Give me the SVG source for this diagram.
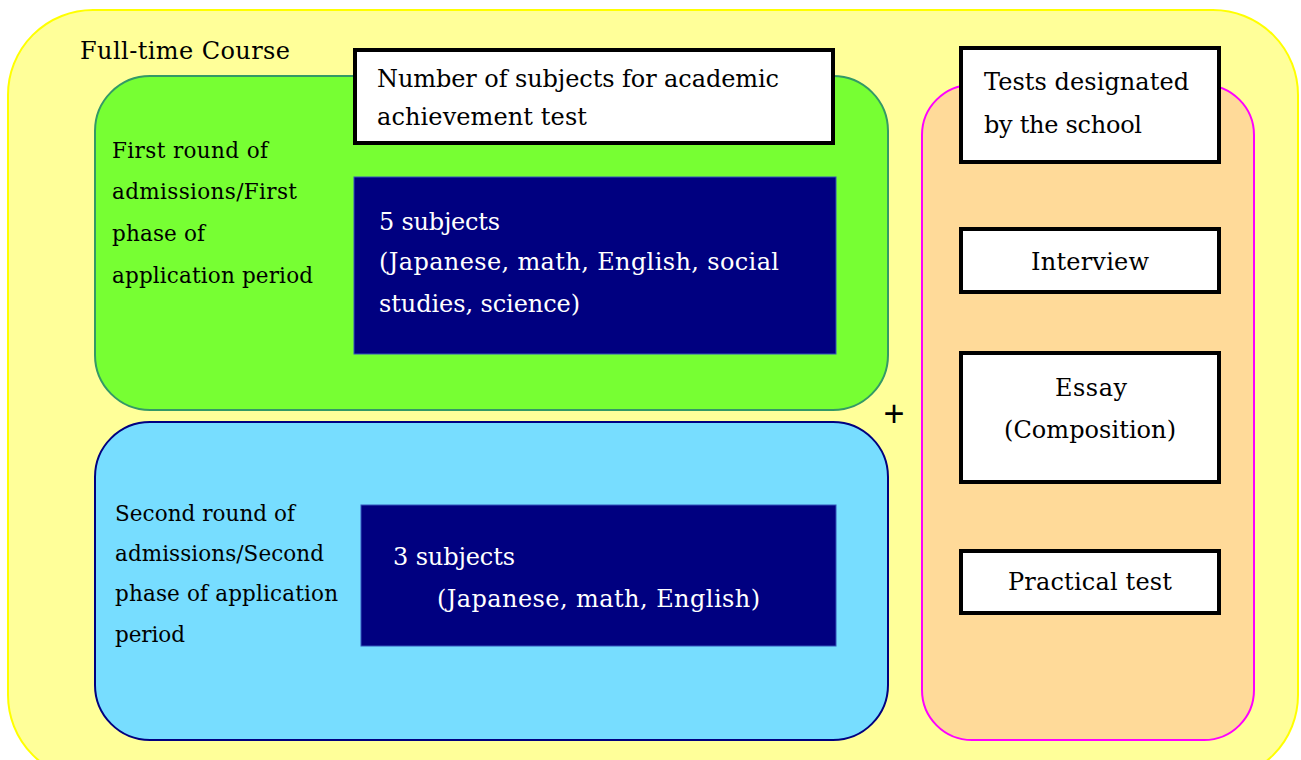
<svg xmlns="http://www.w3.org/2000/svg" width="1301" height="760" viewBox="0 0 1301 760">
<style>
text{font-family:"DejaVu Serif","Liberation Serif",serif;fill:#000}
.t{font-size:24px}
.s{font-size:21.5px}
.w{fill:#fff}
.box{fill:#fff;stroke:#000;stroke-width:4}
.navy{fill:#000080;stroke:#3355bb;stroke-width:1}
.c{text-anchor:middle}
</style>
<rect width="1301" height="760" fill="#fff"/>
<g id="full-time">
<rect x="8" y="10" width="1290" height="770" rx="85" fill="#FFFF99" stroke="#FFFF00" stroke-width="2"/>
<text class="t" x="80" y="59" textLength="210">Full-time Course</text>
</g>
<g id="first-round">
<rect x="95" y="76" width="793" height="334" rx="55" fill="#77FF33" stroke="#339966" stroke-width="2"/>
<text class="s" x="112" y="158" textLength="156">First round of</text>
<text class="s" x="112" y="199" textLength="185">admissions/First</text>
<text class="s" x="112" y="241" textLength="93">phase of</text>
<text class="s" x="112" y="283" textLength="201">application period</text>
</g>
<g id="second-round">
<rect x="95" y="422" width="793" height="318" rx="55" fill="#77DDFF" stroke="#000080" stroke-width="2"/>
<text class="s" x="115" y="521" textLength="180">Second round of</text>
<text class="s" x="115" y="561" textLength="209">admissions/Second</text>
<text class="s" x="115" y="601" textLength="223">phase of application</text>
<text class="s" x="115" y="642" textLength="70">period</text>
</g>
<g id="school-tests">
<rect x="922" y="85" width="332" height="655" rx="50" fill="#FFDA99" stroke="#FF00FF" stroke-width="2"/>
</g>
<g id="number-of-subjects">
<rect class="box" x="355" y="50" width="478" height="93"/>
<text class="t" x="377" y="87" textLength="402">Number of subjects for academic</text>
<text class="t" x="377" y="125" textLength="210">achievement test</text>
</g>
<g id="five-subjects">
<rect class="navy" x="354" y="177" width="482" height="177"/>
<text class="t w" x="379" y="230" textLength="121">5 subjects</text>
<text class="t w" x="379" y="270" textLength="400">(Japanese, math, English, social</text>
<text class="t w" x="379" y="312" textLength="201">studies, science)</text>
</g>
<g id="three-subjects">
<rect class="navy" x="361" y="505" width="475" height="141"/>
<text class="t w" x="393" y="565" textLength="122">3 subjects</text>
<text class="t w" x="437" y="607" textLength="323">(Japanese, math, English)</text>
</g>
<g id="tests-designated">
<rect class="box" x="961" y="48" width="258" height="114"/>
<text class="t" x="984" y="90" textLength="205">Tests designated</text>
<text class="t" x="984" y="133" textLength="158">by the school</text>
</g>
<g id="interview">
<rect class="box" x="961" y="229" width="258" height="63"/>
<text class="t" x="1031" y="270" textLength="118">Interview</text>
</g>
<g id="essay">
<rect class="box" x="961" y="353" width="258" height="129"/>
<text class="t" x="1055" y="396" textLength="72">Essay</text>
<text class="t" x="1004" y="438" textLength="172">(Composition)</text>
</g>
<g id="practical-test">
<rect class="box" x="961" y="551" width="258" height="62"/>
<text class="t" x="1008" y="590" textLength="164">Practical test</text>
</g>
<g id="connectors">
<text x="894" y="426" style="font-family:'Liberation Sans',sans-serif;font-size:36px" class="c">+</text>
</g>
</svg>
